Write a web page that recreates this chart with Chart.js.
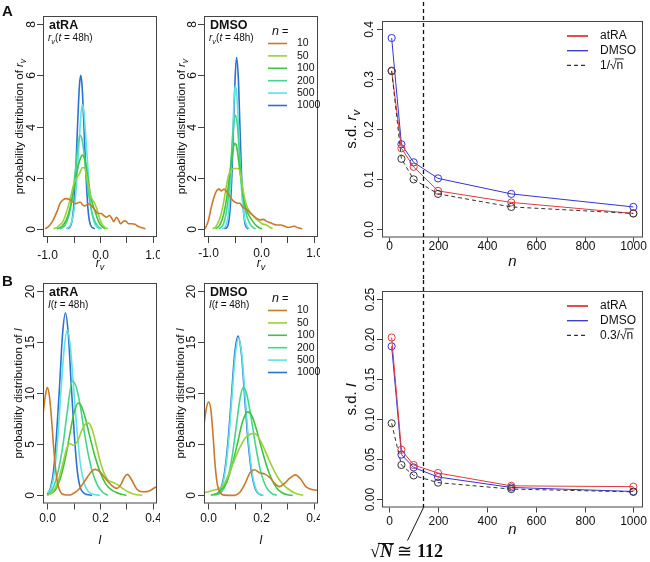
<!DOCTYPE html>
<html>
<head>
<meta charset="utf-8">
<script src="https://cdn.jsdelivr.net/npm/chart.js@4.4.1/dist/chart.umd.min.js"></script>
<style>
  html, body { margin: 0; padding: 0; background: #fff; }
  #fig { position: relative; width: 650px; height: 562px; overflow: hidden; }
  canvas { position: absolute; }
</style>
</head>
<body>
<div id="fig">
  <canvas id="cTL" width="160" height="275" style="left:0;top:0"></canvas>
  <canvas id="cTM" width="160" height="275" style="left:160px;top:0"></canvas>
  <canvas id="cTR" width="330" height="280" style="left:320px;top:0"></canvas>
  <canvas id="cBL" width="160" height="287" style="left:0;top:275px"></canvas>
  <canvas id="cBM" width="160" height="287" style="left:160px;top:275px"></canvas>
  <canvas id="cBR" width="330" height="282" style="left:320px;top:280px"></canvas>
</div>
<script>
/* ── Fonts & colours ──────────────────────────── */
const SANS  = '"Liberation Sans", Arial, Helvetica, sans-serif';
const SERIF = '"Liberation Serif", "Times New Roman", serif';
const INK   = '#111';
const AXIS  = '#444';
const RED   = '#e0393e';
const BLUE  = '#3434d2';
const REF   = '#333';

/* ── Categories & ticks ───────────────────────── */
const N_LEVELS = ['10', '50', '100', '200', '500', '1000'];
const N_COLORS = ['#c8792c', '#9ad13a', '#3ec43e', '#42d68e', '#5fe3e3', '#2c72d2'];

const RV_X_TICKS  = [-1, -0.5, 0, 0.5, 1];
const RV_X_LABELS = ['-1.0', '', '0.0', '', '1.0'];
const RV_Y_TICKS  = [0, 2, 4, 6, 8];
const RV_Y_LABELS = ['0', '2', '4', '6', '8'];
const I_X_TICKS   = [0, 0.1, 0.2, 0.3, 0.4];
const I_X_LABELS  = ['0.0', '', '0.2', '', '0.4'];
const I_Y_TICKS   = [0, 5, 10, 15, 20];
const I_Y_LABELS  = ['0', '5', '10', '15', '20'];
const N_TICKS     = [0, 200, 400, 600, 800, 1000];
const N_LABELS    = ['0', '200', '400', '600', '800', '1000'];
const SD_RV_TICKS  = [0, 0.1, 0.2, 0.3, 0.4];
const SD_RV_LABELS = ['0.0', '0.1', '0.2', '0.3', '0.4'];
const SD_I_TICKS   = [0, 0.05, 0.1, 0.15, 0.2, 0.25];
const SD_I_LABELS  = ['0.00', '0.05', '0.10', '0.15', '0.20', '0.25'];

/* ── s.d. vs n ────────────────────────────────── */
const N_SAMPLES  = [10, 50, 100, 200, 500, 1000];
const SD_RV_ATRA = [0.317, 0.162, 0.125, 0.077, 0.054, 0.032];
const SD_RV_DMSO = [0.382, 0.170, 0.134, 0.102, 0.071, 0.045];
const SD_RV_REF  = [0.316, 0.141, 0.100, 0.071, 0.045, 0.032];
const SD_I_ATRA  = [0.202, 0.062, 0.043, 0.033, 0.017, 0.016];
const SD_I_DMSO  = [0.191, 0.056, 0.040, 0.028, 0.015, 0.010];
const SD_I_REF   = [0.095, 0.043, 0.030, 0.021, 0.013, 0.0095];
const SQRT_N_MARK = 137;   // where the dashed line is drawn

/* ── Density curves: r_v, atRA ────────────────── */
const RV_ATRA_10 = [[-1.04,0],[-0.97,0.1],[-0.89,0.33],[-0.82,0.65],[-0.755,1.0],[-0.7,1.13],[-0.64,1.18],[-0.58,1.15],[-0.52,1.06],[-0.46,0.98],[-0.41,1.03],[-0.37,1.04],[-0.33,0.94],[-0.28,0.9],[-0.22,0.98],[-0.16,0.9],[-0.1,0.75],[-0.04,0.6],[0.02,0.6],[0.07,0.52],[0.12,0.45],[0.18,0.52],[0.22,0.42],[0.26,0.28],[0.31,0.45],[0.35,0.35],[0.39,0.2],[0.45,0.3],[0.49,0.3],[0.54,0.2],[0.6,0.2],[0.66,0.18],[0.72,0.1],[0.8,0.04],[0.86,0]];
const RV_ATRA_50 = [[-0.88,0],[-0.8,0.08],[-0.7,0.3],[-0.62,0.75],[-0.55,1.3],[-0.49,1.8],[-0.44,2.0],[-0.39,2.15],[-0.34,2.38],[-0.3,2.4],[-0.26,2.15],[-0.22,1.7],[-0.18,1.3],[-0.13,1.1],[-0.09,0.95],[-0.04,0.65],[0,0.35],[0.05,0.15],[0.1,0.05],[0.15,0]];
const RV_ATRA_100 = [[-0.82,0],[-0.72,0.1],[-0.64,0.35],[-0.57,0.8],[-0.5,1.5],[-0.44,2.2],[-0.38,2.7],[-0.33,2.88],[-0.28,2.65],[-0.23,2.0],[-0.18,1.3],[-0.13,0.9],[-0.08,0.6],[-0.03,0.3],[0.03,0.1],[0.1,0]];
const RV_ATRA_200 = [[-0.76,0],[-0.66,0.15],[-0.58,0.6],[-0.52,1.3],[-0.46,2.4],[-0.42,3.2],[-0.38,3.66],[-0.34,3.5],[-0.3,2.9],[-0.26,2.1],[-0.21,1.3],[-0.16,0.7],[-0.1,0.3],[-0.04,0.1],[0.03,0]];
const RV_ATRA_500 = [[-0.64,0],[-0.56,0.15],[-0.5,0.6],[-0.45,1.6],[-0.41,2.9],[-0.37,4.2],[-0.34,4.85],[-0.31,4.7],[-0.28,3.9],[-0.24,2.7],[-0.2,1.5],[-0.16,0.7],[-0.11,0.25],[-0.05,0.05],[0,0]];
const RV_ATRA_1000 = [[-0.62,0],[-0.55,0.15],[-0.5,0.83],[-0.45,2.75],[-0.42,4.3],[-0.39,5.6],[-0.365,6.0],[-0.34,5.6],[-0.31,4.3],[-0.28,2.75],[-0.23,0.83],[-0.18,0.15],[-0.1,0]];

/* ── Density curves: r_v, DMSO ────────────────── */
const RV_DMSO_10 = [[-1.06,0],[-1.0,0.3],[-0.94,0.86],[-0.88,1.3],[-0.83,1.52],[-0.79,1.55],[-0.75,1.48],[-0.7,1.55],[-0.65,1.45],[-0.6,1.3],[-0.55,1.15],[-0.5,1.05],[-0.45,1.0],[-0.4,1.0],[-0.35,0.85],[-0.3,0.8],[-0.25,0.72],[-0.2,0.6],[-0.14,0.5],[-0.08,0.4],[-0.02,0.35],[0.05,0.37],[0.1,0.3],[0.16,0.25],[0.22,0.2],[0.3,0.15],[0.38,0.15],[0.45,0.1],[0.52,0.05],[0.58,0.08],[0.63,0.1],[0.7,0.04],[0.78,0]];
const RV_DMSO_50 = [[-0.92,0],[-0.85,0.1],[-0.78,0.4],[-0.72,0.9],[-0.67,1.5],[-0.62,2.05],[-0.58,2.25],[-0.54,2.35],[-0.5,2.36],[-0.45,2.36],[-0.41,2.3],[-0.37,1.9],[-0.32,1.3],[-0.27,0.9],[-0.22,0.7],[-0.16,0.55],[-0.1,0.4],[-0.04,0.3],[0.02,0.2],[0.1,0.15],[0.16,0.07],[0.22,0]];
const RV_DMSO_100 = [[-0.86,0],[-0.78,0.15],[-0.71,0.55],[-0.65,1.2],[-0.6,2.0],[-0.55,2.8],[-0.5,3.34],[-0.46,3.2],[-0.42,2.6],[-0.37,1.8],[-0.32,1.1],[-0.27,0.7],[-0.22,0.5],[-0.16,0.3],[-0.1,0.15],[-0.04,0.05],[0.02,0]];
const RV_DMSO_200 = [[-0.8,0],[-0.72,0.15],[-0.66,0.6],[-0.61,1.4],[-0.57,2.6],[-0.53,3.8],[-0.49,4.45],[-0.45,4.1],[-0.41,3.0],[-0.37,1.9],[-0.32,1.0],[-0.27,0.5],[-0.21,0.2],[-0.15,0.05],[-0.1,0]];
const RV_DMSO_500 = [[-0.74,0],[-0.67,0.1],[-0.62,0.55],[-0.58,1.6],[-0.55,3.0],[-0.52,4.6],[-0.49,5.59],[-0.46,5.3],[-0.43,4.1],[-0.4,2.6],[-0.36,1.3],[-0.32,0.5],[-0.27,0.12],[-0.22,0]];
const RV_DMSO_1000 = [[-0.7,0],[-0.64,0.07],[-0.61,0.29],[-0.58,0.91],[-0.55,2.18],[-0.52,4.06],[-0.49,5.91],[-0.463,6.7],[-0.43,5.91],[-0.4,4.06],[-0.37,2.18],[-0.34,0.91],[-0.31,0.29],[-0.28,0.07],[-0.24,0]];

/* ── Density curves: I, atRA ──────────────────── */
const I_ATRA_10 = [[-0.017,7.7],[-0.008,9.6],[0,10.55],[0.008,9.8],[0.016,7.6],[0.024,4.8],[0.032,2.5],[0.04,1.1],[0.05,0.35],[0.065,0.05],[0.085,0.03],[0.1,0.2],[0.12,0.6],[0.136,1.17],[0.155,1.9],[0.17,2.4],[0.183,2.54],[0.2,2.3],[0.225,1.5],[0.245,0.95],[0.264,0.68],[0.28,1.1],[0.293,1.8],[0.304,2.05],[0.318,1.6],[0.34,0.6],[0.36,0.35],[0.378,0.36],[0.395,0.55],[0.41,0.8],[0.425,0.95]];
const I_ATRA_50 = [[0,0],[0.02,0.3],[0.04,1.3],[0.06,3.2],[0.075,4.7],[0.085,5.08],[0.1,4.9],[0.115,5.3],[0.13,6.3],[0.145,7.0],[0.155,7.1],[0.17,6.5],[0.185,5.0],[0.2,3.4],[0.215,2.2],[0.23,1.5],[0.25,1.25],[0.27,1.0],[0.29,0.6],[0.31,0.3],[0.33,0.1],[0.36,0]];
const I_ATRA_100 = [[0,0],[0.03,0.5],[0.05,1.7],[0.07,3.8],[0.085,5.9],[0.1,7.9],[0.117,9.05],[0.13,8.7],[0.145,7.5],[0.16,5.9],[0.18,3.9],[0.2,2.3],[0.22,1.2],[0.24,0.6],[0.26,0.3],[0.28,0.1],[0.3,0]];
const I_ATRA_200 = [[0,0],[0.02,0.6],[0.04,2.2],[0.06,5.0],[0.075,8.0],[0.0955,11.2],[0.11,10.6],[0.125,8.8],[0.14,6.3],[0.155,4.1],[0.17,2.4],[0.19,1.0],[0.21,0.3],[0.23,0]];
const I_ATRA_500 = [[0,0.2],[0.014,0.7],[0.027,2.2],[0.039,5.3],[0.051,9.8],[0.064,14.3],[0.076,16.2],[0.088,14.5],[0.1,10.5],[0.113,6.3],[0.126,3.0],[0.14,1.2],[0.155,0.4],[0.175,0.1],[0.2,0]];
const I_ATRA_1000 = [[0,0.15],[0.013,0.78],[0.024,2.4],[0.035,5.8],[0.047,10.8],[0.058,15.75],[0.069,17.85],[0.08,15.75],[0.091,10.8],[0.103,5.8],[0.114,2.4],[0.125,0.78],[0.14,0.2],[0.17,0]];

/* ── Density curves: I, DMSO ──────────────────── */
const I_DMSO_10 = [[-0.017,6.7],[-0.008,8.4],[0.001,9.15],[0.01,8.4],[0.018,6.0],[0.026,3.0],[0.035,1.0],[0.047,0.2],[0.06,0.02],[0.1,0],[0.12,0.3],[0.14,1.17],[0.158,2.2],[0.175,2.5],[0.195,2.2],[0.215,2.08],[0.235,1.7],[0.252,1.17],[0.271,0.85],[0.29,1.2],[0.31,1.7],[0.33,2.0],[0.35,1.6],[0.37,0.85],[0.39,0.6],[0.41,0.5],[0.425,0.45]];
const I_DMSO_50 = [[-0.017,0.26],[0,0.35],[0.02,0.5],[0.04,0.65],[0.06,1.1],[0.08,2.2],[0.1,3.5],[0.12,4.7],[0.14,5.6],[0.16,6.0],[0.175,6.06],[0.19,5.7],[0.21,4.7],[0.23,3.5],[0.25,2.4],[0.27,1.5],[0.29,0.9],[0.31,0.5],[0.33,0.2],[0.36,0]];
const I_DMSO_100 = [[0.01,0],[0.04,0.3],[0.07,1.3],[0.09,2.9],[0.11,5.0],[0.13,7.2],[0.149,8.18],[0.165,7.8],[0.18,6.7],[0.2,4.8],[0.22,3.0],[0.24,1.6],[0.26,0.7],[0.28,0.25],[0.3,0.05],[0.32,0]];
const I_DMSO_200 = [[0.02,0],[0.05,0.3],[0.07,1.3],[0.09,3.7],[0.105,6.5],[0.12,9.4],[0.132,10.55],[0.145,10.0],[0.16,8.0],[0.18,4.8],[0.2,2.2],[0.22,0.8],[0.24,0.2],[0.26,0]];
const I_DMSO_500 = [[0.03,0.1],[0.037,0.17],[0.05,0.68],[0.063,2.1],[0.076,5.0],[0.089,9.3],[0.102,13.6],[0.115,15.4],[0.128,13.6],[0.141,9.3],[0.154,5.0],[0.167,2.1],[0.18,0.68],[0.193,0.17],[0.21,0]];
const I_DMSO_1000 = [[0.03,0.1],[0.035,0.17],[0.048,0.68],[0.061,2.1],[0.074,5.0],[0.087,9.3],[0.1,13.8],[0.113,15.6],[0.126,13.8],[0.139,9.3],[0.152,5.0],[0.165,2.1],[0.178,0.68],[0.191,0.17],[0.205,0]];

const RV_ATRA = [RV_ATRA_10, RV_ATRA_50, RV_ATRA_100, RV_ATRA_200, RV_ATRA_500, RV_ATRA_1000];
const RV_DMSO = [RV_DMSO_10, RV_DMSO_50, RV_DMSO_100, RV_DMSO_200, RV_DMSO_500, RV_DMSO_1000];
const I_ATRA  = [I_ATRA_10, I_ATRA_50, I_ATRA_100, I_ATRA_200, I_ATRA_500, I_ATRA_1000];
const I_DMSO  = [I_DMSO_10, I_DMSO_50, I_DMSO_100, I_DMSO_200, I_DMSO_500, I_DMSO_1000];

/* ── Text runs (mixed fonts) ──────────────────── */
const f = (s, style) => (style ? style + ' ' : '') + s + 'px ' + SANS;
const RV_SYM    = (s) => [['r', f(s, 'italic')], ['v', f(s * 0.75, 'italic'), s * 0.28]];
const I_SYM     = (s) => [['I', f(s, 'italic')]];
const T48       = (s) => [['(', f(s)], ['t', f(s, 'italic')], [' = 48h)', f(s)]];

/* ── Helpers ──────────────────────────────────── */
function el(id) { return document.getElementById(id); }

function drawRuns(ctx, runs, x, y, align) {
  let w = 0;
  runs.forEach(r => { ctx.font = r[1]; w += ctx.measureText(r[0]).width; });
  let cx = align === 'left' ? x : x - w / 2;
  runs.forEach(r => {
    ctx.font = r[1];
    ctx.fillText(r[0], cx, y + (r[2] || 0));
    cx += ctx.measureText(r[0]).width;
  });
  return w;
}

function hline(ctx, x0, x1, y) { ctx.beginPath(); ctx.moveTo(x0, y); ctx.lineTo(x1, y); ctx.stroke(); }
function vline(ctx, x, y0, y1) { ctx.beginPath(); ctx.moveTo(x, y0); ctx.lineTo(x, y1); ctx.stroke(); }

/* ── R-style frame: box, outward ticks, rotated y labels ── */
function frame(cfg) {
  return {
    id: 'frame',
    afterDatasetsDraw(chart) {
      const { ctx, chartArea: a, scales: { x, y } } = chart;
      ctx.save();
      ctx.strokeStyle = AXIS;
      ctx.lineWidth = 1;
      ctx.strokeRect(a.left + 0.5, a.top + 0.5, a.right - a.left - 1, a.bottom - a.top - 1);

      ctx.fillStyle = INK;
      ctx.font = f(12);
      ctx.textAlign = 'center';
      ctx.textBaseline = 'middle';
      cfg.xt.forEach((v, i) => {
        const px = Math.round(x.getPixelForValue(v)) + 0.5;
        vline(ctx, px, a.bottom, a.bottom + cfg.tick);
        if (cfg.xl[i]) ctx.fillText(cfg.xl[i], px, a.bottom + cfg.xOff);
      });
      cfg.yt.forEach((v, i) => {
        const py = Math.round(y.getPixelForValue(v)) + 0.5;
        hline(ctx, a.left - cfg.tick, a.left, py);
        ctx.save();
        ctx.translate(a.left - cfg.yOff, py);
        ctx.rotate(-Math.PI / 2);
        ctx.fillText(cfg.yl[i], 0, 0);
        ctx.restore();
      });

      ctx.textAlign = 'left';
      ctx.textBaseline = 'alphabetic';
      drawRuns(ctx, cfg.xTitle, (a.left + a.right) / 2, a.bottom + cfg.xTitleOff, 'center');
      ctx.save();
      ctx.translate(a.left - cfg.yTitleOff, (a.top + a.bottom) / 2);
      ctx.rotate(-Math.PI / 2);
      drawRuns(ctx, cfg.yTitle, 0, 4, 'center');
      ctx.restore();

      if (cfg.extra) cfg.extra(ctx, chart, a);
      ctx.restore();
    },
  };
}

function baseOptions(xr, yr, pad) {
  return {
    responsive: false,
    animation: false,
    events: [],
    layout: { padding: pad },
    plugins: { legend: { display: false }, tooltip: { enabled: false } },
    scales: {
      x: { type: 'linear', min: xr[0], max: xr[1], display: false },
      y: { type: 'linear', min: yr[0], max: yr[1], display: false },
    },
  };
}

/* ── Panel decorations ────────────────────────── */
function densTitle(name, sym) {
  return (ctx, a) => {
    ctx.fillStyle = INK;
    ctx.font = f(12.5, 'bold');
    ctx.fillText(name, a.left + 6, a.top + 13);
    drawRuns(ctx, sym(10).concat(T48(10)), a.left + 5, a.top + 25, 'left');
  };
}

function densLegend(ctx, a) {
  ctx.fillStyle = INK;
  drawRuns(ctx, [['n', f(12.5, 'italic')], [' =', f(11)]], a.left + 68, a.top + 19, 'left');
  ctx.font = f(10.5);
  ctx.textBaseline = 'middle';
  N_LEVELS.forEach((lab, i) => {
    const yy = a.top + 27.5 + i * 12.4;
    ctx.strokeStyle = N_COLORS[i];
    ctx.lineWidth = 1.6;
    hline(ctx, a.left + 64, a.left + 83, yy);
    ctx.fillText(lab, a.left + 93, yy);
  });
  ctx.textBaseline = 'alphabetic';
}

function refLabel(ctx, pre, x, y) {
  ctx.font = f(12);
  ctx.fillText(pre + '\u221A' + 'n', x, y);
  const w0 = ctx.measureText(pre).width;
  const w1 = ctx.measureText(pre + '\u221A').width;
  const w2 = ctx.measureText(pre + '\u221A' + 'n').width;
  ctx.lineWidth = 0.9;
  ctx.strokeStyle = INK;
  hline(ctx, x + w0 + (w1 - w0) * 0.7, x + w2 + 0.5, y - 6.5);
}

function sdLegend(pre) {
  return (ctx, a) => {
    const rows = [['atRA', RED, []], ['DMSO', BLUE, []], [null, REF, [4, 3]]];
    ctx.fillStyle = INK;
    ctx.font = f(12);
    ctx.textBaseline = 'middle';
    rows.forEach(([lab, col, dash], i) => {
      const yy = a.top + 15 + i * 14.7;
      ctx.strokeStyle = col;
      ctx.lineWidth = i === 0 ? 1.8 : 1.3;
      ctx.setLineDash(dash);
      hline(ctx, a.right - 76, a.right - 55, yy);
      ctx.setLineDash([]);
      if (lab) ctx.fillText(lab, a.right - 43, yy);
      else refLabel(ctx, pre, a.right - 43, yy);
    });
    ctx.textBaseline = 'alphabetic';
  };
}

function markLine(ctx, chart, y0, y1) {
  const px = Math.round(chart.scales.x.getPixelForValue(SQRT_N_MARK)) + 0.5;
  ctx.strokeStyle = '#111';
  ctx.lineWidth = 1.3;
  ctx.setLineDash([4, 3]);
  vline(ctx, px, y0, y1);
  ctx.setLineDash([]);
  return px;
}

/* ── Chart builders ───────────────────────────── */
function densityChart(id, curves, xr, yr, pad, cfg) {
  new Chart(el(id), {
    type: 'line',
    data: {
      datasets: curves.map((c, i) => ({
        label: 'n = ' + N_LEVELS[i],
        data: c.map(([x, y]) => ({ x, y })),
        borderColor: N_COLORS[i],
        borderWidth: 1.6,
        pointRadius: 0,
        cubicInterpolationMode: 'monotone',
        fill: false,
      })),
    },
    options: baseOptions(xr, yr, pad),
    plugins: [frame(cfg)],
  });
}

function sdChart(id, atra, dmso, ref, yr, pad, cfg) {
  const pts = arr => N_SAMPLES.map((n, i) => ({ x: n, y: arr[i] }));
  const ds = (label, arr, col, dash) => ({
    label,
    data: pts(arr),
    borderColor: col,
    borderWidth: 1,
    borderDash: dash,
    tension: 0,
    pointStyle: 'circle',
    pointRadius: 3.6,
    pointBorderColor: col,
    pointBackgroundColor: 'rgba(0,0,0,0)',
    pointBorderWidth: 1,
    fill: false,
  });
  new Chart(el(id), {
    type: 'line',
    data: { datasets: [ds('ref', ref, REF, [4, 3]), ds('atRA', atra, RED, []), ds('DMSO', dmso, BLUE, [])] },
    options: baseOptions([-29.6, 1039.6], yr, pad),
    plugins: [frame(cfg)],
  });
}

/* ── Init ─────────────────────────────────────── */
const RV_XR = [-1.08, 1.08], RV_YR = [-0.32, 8.32];
const I_XR  = [-0.016, 0.416], I_YR = [-0.8, 20.8];
const PROB = s => [['probability distribution of ', f(s)]];

densityChart('cTL', RV_ATRA, RV_XR, RV_YR, { left: 43, top: 16, right: 3, bottom: 38 }, {
  xt: RV_X_TICKS, xl: RV_X_LABELS, yt: RV_Y_TICKS, yl: RV_Y_LABELS,
  tick: 6, xOff: 19, yOff: 11, xTitle: RV_SYM(12), xTitleOff: 30,
  yTitle: PROB(11.5).concat(RV_SYM(11.5)), yTitleOff: 24,
  extra: (ctx, ch, a) => {
    densTitle('atRA', RV_SYM)(ctx, a);
    ctx.font = f(15, 'bold');
    ctx.fillText('A', 2, 16);
  },
});

densityChart('cTM', RV_DMSO, RV_XR, RV_YR, { left: 44, top: 16, right: 2, bottom: 38 }, {
  xt: RV_X_TICKS, xl: RV_X_LABELS, yt: RV_Y_TICKS, yl: RV_Y_LABELS,
  tick: 6, xOff: 17, yOff: 11, xTitle: RV_SYM(12), xTitleOff: 30,
  yTitle: PROB(11.5).concat(RV_SYM(11.5)), yTitleOff: 23,
  extra: (ctx, ch, a) => { densTitle('DMSO', RV_SYM)(ctx, a); densLegend(ctx, a); },
});

sdChart('cTR', SD_RV_ATRA, SD_RV_DMSO, SD_RV_REF, [-0.016, 0.416], { left: 62, top: 21, right: 7, bottom: 42.5 }, {
  xt: N_TICKS, xl: N_LABELS, yt: SD_RV_TICKS, yl: SD_RV_LABELS,
  tick: 5, xOff: 9, yOff: 12, xTitle: [['n', f(15, 'italic')]], xTitleOff: 28,
  yTitle: [['s.d. ', f(15)]].concat(RV_SYM(15)), yTitleOff: 30,
  extra: (ctx, ch, a) => {
    sdLegend('1/')(ctx, a);
    markLine(ctx, ch, 2, ch.height);
  },
});

densityChart('cBL', I_ATRA, I_XR, I_YR, { left: 43, top: 8, right: 3, bottom: 58.5 }, {
  xt: I_X_TICKS, xl: I_X_LABELS, yt: I_Y_TICKS, yl: I_Y_LABELS,
  tick: 6, xOff: 15, yOff: 12, xTitle: I_SYM(12), xTitleOff: 40,
  yTitle: PROB(11.5).concat(I_SYM(11.5)), yTitleOff: 25,
  extra: (ctx, ch, a) => {
    densTitle('atRA', I_SYM)(ctx, a);
    ctx.font = f(15, 'bold');
    ctx.fillText('B', 2, 11);
  },
});

densityChart('cBM', I_DMSO, I_XR, I_YR, { left: 44, top: 8, right: 2, bottom: 58.5 }, {
  xt: I_X_TICKS, xl: I_X_LABELS, yt: I_Y_TICKS, yl: I_Y_LABELS,
  tick: 6, xOff: 15, yOff: 12, xTitle: I_SYM(12), xTitleOff: 40,
  yTitle: PROB(11.5).concat(I_SYM(11.5)), yTitleOff: 24,
  extra: (ctx, ch, a) => { densTitle('DMSO', I_SYM)(ctx, a); densLegend(ctx, a); },
});

sdChart('cBR', SD_I_ATRA, SD_I_DMSO, SD_I_REF, [-0.01, 0.26], { left: 62, top: 11, right: 7, bottom: 54.5 }, {
  xt: N_TICKS, xl: N_LABELS, yt: SD_I_TICKS, yl: SD_I_LABELS,
  tick: 5, xOff: 14, yOff: 11, xTitle: [['n', f(15, 'italic')]], xTitleOff: 26,
  yTitle: [['s.d. ', f(15)]].concat(I_SYM(15)), yTitleOff: 30,
  extra: (ctx, ch, a) => {
    sdLegend('0.3/')(ctx, a);
    const px = markLine(ctx, ch, 0, a.bottom);
    ctx.strokeStyle = '#111';
    ctx.lineWidth = 1;
    ctx.beginPath(); ctx.moveTo(px, a.bottom); ctx.lineTo(px - 16, a.bottom + 33); ctx.stroke();
    // sqrt(N) ≅ 112
    ctx.fillStyle = INK;
    const x0 = 50, base = ch.height - 5;
    const runs = [['\u221A', '18px ' + SERIF], ['N', 'bold italic 18px ' + SERIF], [' \u2245 ', '18px ' + SERIF], ['112', 'bold 18px ' + SERIF]];
    drawRuns(ctx, runs, x0, base, 'left');
    ctx.font = runs[0][1];
    const ws = ctx.measureText('\u221A').width;
    ctx.font = runs[1][1];
    const wn = ctx.measureText('N').width;
    ctx.lineWidth = 1;
    hline(ctx, x0 + ws * 0.8, x0 + ws + wn + 1, base - 13.5);
  },
});
</script>
</body>
</html>
